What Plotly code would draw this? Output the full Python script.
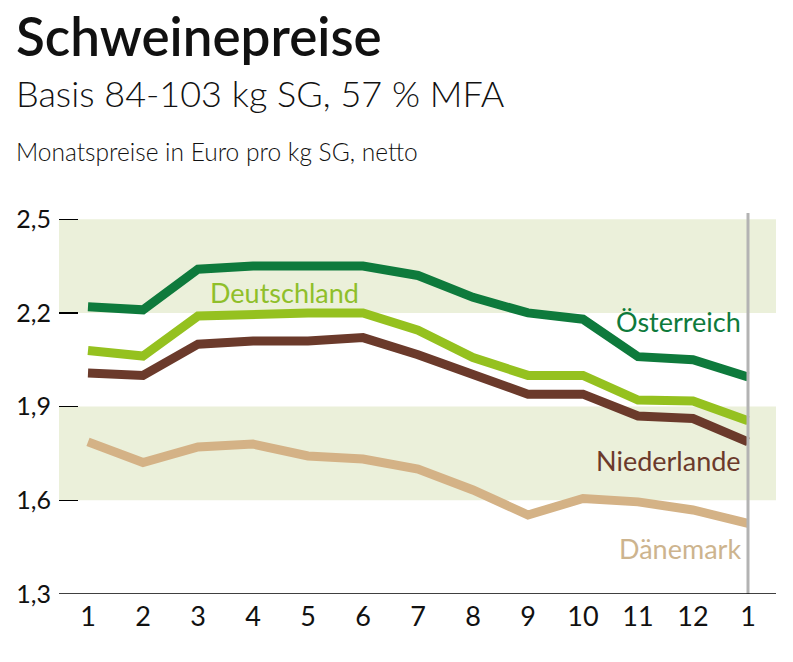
import plotly.graph_objects as go

months = ["1", "2", "3", "4", "5", "6", "7", "8", "9", "10", "11", "12", "1"]
oesterreich = [2.22, 2.21, 2.34, 2.35, 2.35, 2.35, 2.32, 2.25, 2.20, 2.18, 2.06, 2.05, 1.995]
deutschland = [2.08, 2.062, 2.19, 2.198, 2.2, 2.2, 2.145, 2.057, 2.0, 2.0, 1.921, 1.918, 1.855]
niederlande = [2.008, 2.0, 2.10, 2.11, 2.11, 2.121, 2.066, 2.006, 1.94, 1.94, 1.87, 1.862, 1.787]
daenemark = [1.787, 1.721, 1.771, 1.78, 1.742, 1.732, 1.70, 1.633, 1.553, 1.606, 1.595, 1.569, 1.526]
y_ticks = [1.3, 1.6, 1.9, 2.2, 2.5]
y_ticktext = ["1,3", "1,6", "1,9", "2,2", "2,5"]

series = [
    ("Österreich", oesterreich, "#0e7a3c"),
    ("Deutschland", deutschland, "#95c11f"),
    ("Niederlande", niederlande, "#6b3a2b"),
    ("Dänemark", daenemark, "#d4b286"),
]

FONT = "Lato"
xs = list(range(len(months)))

fig = go.Figure()
for name, vals, col in reversed(series):
    fig.add_trace(go.Scatter(x=xs, y=vals, mode="lines", name=name,
                             line=dict(color=col, width=9), showlegend=False,
                             hoverinfo="skip"))

band = "#ebf0da"
shapes = [
    dict(type="rect", xref="paper", yref="y", x0=0, x1=1, y0=2.2, y1=2.5,
         fillcolor=band, line=dict(width=0), layer="below"),
    dict(type="rect", xref="paper", yref="y", x0=0, x1=1, y0=1.6, y1=1.9,
         fillcolor=band, line=dict(width=0), layer="below"),
    dict(type="line", xref="x", yref="y", x0=12, x1=12, y0=1.3, y1=2.52,
         line=dict(color="#b3b3b3", width=3), layer="above"),
    dict(type="line", xref="paper", yref="y", x0=0, x1=1, y0=1.3, y1=1.3,
         line=dict(color="#000000", width=1.5), layer="above"),
]

annotations = [
    dict(text="Schweinepreise", xref="paper", yref="paper", x=-0.0628, y=1.466,
         xanchor="left", yanchor="middle", showarrow=False,
         font=dict(family=FONT, size=53, color="#111111", weight=600)),
    dict(text="Basis 84-103 kg SG, 57 % MFA", xref="paper", yref="paper", x=-0.0628, y=1.315,
         xanchor="left", yanchor="middle", showarrow=False,
         font=dict(family=FONT, size=36, color="#111111", weight=300)),
    dict(text="Monatspreise in Euro pro kg SG, netto", xref="paper", yref="paper", x=-0.0628, y=1.161,
         xanchor="left", yanchor="middle", showarrow=False,
         font=dict(family=FONT, size=24.5, color="#111111", weight=300)),
    dict(text="Deutschland", xref="x", yref="y", x=3.58, y=2.267, xanchor="center",
         yanchor="middle", showarrow=False, font=dict(family=FONT, size=27, color="#8fbf2a")),
    dict(text="Österreich", xref="x", yref="y", x=11.9, y=2.174, xanchor="right",
         yanchor="middle", showarrow=False, font=dict(family=FONT, size=27, color="#0e7a3c")),
    dict(text="Niederlande", xref="x", yref="y", x=11.9, y=1.729, xanchor="right",
         yanchor="middle", showarrow=False, font=dict(family=FONT, size=27, color="#6b3a2b")),
    dict(text="Dänemark", xref="x", yref="y", x=11.9, y=1.447, xanchor="right",
         yanchor="middle", showarrow=False, font=dict(family=FONT, size=27, color="#cdb48e")),
]

fig.update_layout(
    width=793, height=662,
    margin=dict(l=59, r=17, t=213, b=68),
    paper_bgcolor="white", plot_bgcolor="white",
    xaxis=dict(range=[-0.527, 12.509], tickvals=xs, ticktext=months,
               showgrid=False, zeroline=False, showline=False, ticks="",
               ticklabelstandoff=4,
               tickfont=dict(family=FONT, size=27, color="#111111"), fixedrange=True),
    yaxis=dict(range=[1.3, 2.52], tickvals=y_ticks, ticktext=y_ticktext,
               showgrid=False, zeroline=False, showline=False,
               ticks="inside", ticklen=19, tickwidth=1.5, tickcolor="#000000",
               ticklabelstandoff=7, automargin=False,
               tickfont=dict(family=FONT, size=25, color="#111111"), fixedrange=True),
    shapes=shapes, annotations=annotations,
)

fig.write_html("out.html", config={"displayModeBar": False, "staticPlot": True},
               post_script="document.body.style.margin='0';document.body.style.padding='0';")
